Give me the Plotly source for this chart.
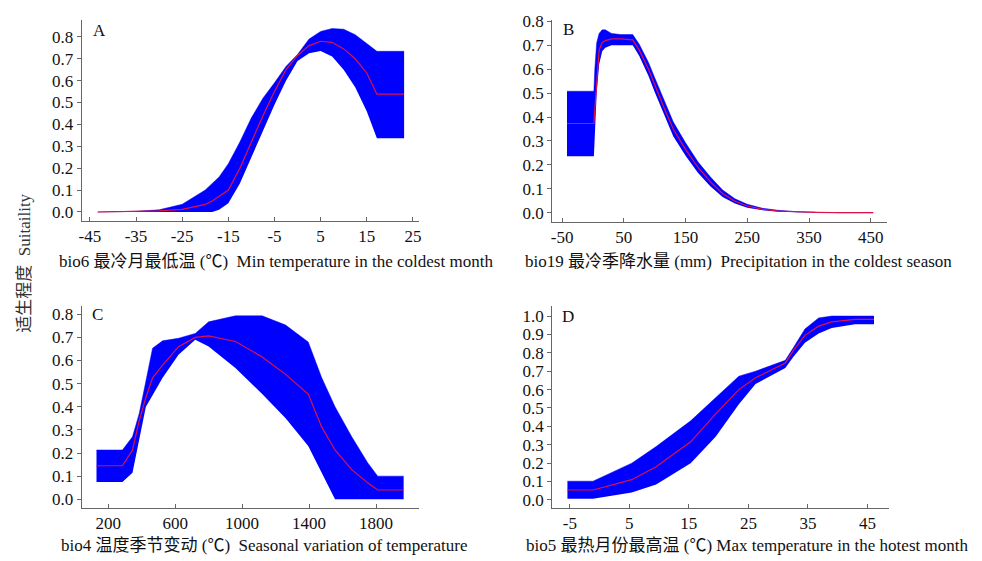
import plotly.graph_objects as go

# ---------------- Data ----------------
# Panel A: bio6
a_x     = [-43.3, -35, -30, -25, -20, -18.5, -17, -15, -12.5, -10, -7.5, -5, -2.5, 0, 2.5, 5, 7.5, 10, 12.5, 15, 17.2, 23.1]
a_mean  = [0, 0.002, 0.005, 0.012, 0.035, 0.05, 0.07, 0.10, 0.20, 0.32, 0.44, 0.55, 0.65, 0.715, 0.76, 0.78, 0.775, 0.745, 0.70, 0.635, 0.538, 0.538]
a_upper = [0, 0.003, 0.01, 0.035, 0.10, 0.13, 0.16, 0.22, 0.32, 0.43, 0.52, 0.59, 0.665, 0.72, 0.79, 0.825, 0.838, 0.835, 0.81, 0.77, 0.734, 0.734]
a_lower = [0, 0, 0, 0, 0, 0, 0.01, 0.04, 0.13, 0.25, 0.37, 0.49, 0.60, 0.69, 0.725, 0.735, 0.71, 0.65, 0.57, 0.46, 0.337, 0.337]

# Panel B: bio19
b_x     = [-42, 1.5, 3, 6, 10, 15, 20, 30, 45, 64.5, 75, 90, 100, 115, 130, 150, 170, 190, 210, 230, 250, 275, 300, 330, 360, 400, 454]
b_mean  = [0.373, 0.373, 0.43, 0.55, 0.68, 0.712, 0.72, 0.727, 0.727, 0.723, 0.68, 0.60, 0.535, 0.44, 0.35, 0.265, 0.19, 0.13, 0.08, 0.048, 0.028, 0.014, 0.007, 0.003, 0.001, 0, 0]
b_upper = [0.508, 0.508, 0.60, 0.71, 0.75, 0.765, 0.765, 0.75, 0.745, 0.745, 0.705, 0.628, 0.565, 0.47, 0.38, 0.292, 0.213, 0.15, 0.095, 0.058, 0.035, 0.018, 0.010, 0.004, 0.002, 0, 0]
b_lower = [0.236, 0.236, 0.32, 0.50, 0.62, 0.675, 0.69, 0.70, 0.70, 0.70, 0.655, 0.572, 0.505, 0.41, 0.32, 0.238, 0.167, 0.11, 0.065, 0.038, 0.021, 0.010, 0.004, 0.002, 0, 0, 0]

# Panel C: bio4
c_x     = [130, 285, 345, 385, 425, 465, 525, 620, 720, 800, 960, 1120, 1260, 1395, 1475, 1555, 1655, 1750, 1810, 1965]
c_mean  = [0.145, 0.145, 0.213, 0.34, 0.44, 0.525, 0.58, 0.66, 0.70, 0.706, 0.682, 0.615, 0.54, 0.455, 0.313, 0.213, 0.128, 0.071, 0.04, 0.04]
c_upper = [0.213, 0.213, 0.27, 0.37, 0.51, 0.653, 0.685, 0.696, 0.717, 0.767, 0.793, 0.793, 0.753, 0.68, 0.526, 0.40, 0.27, 0.158, 0.10, 0.10]
c_lower = [0.075, 0.075, 0.115, 0.26, 0.40, 0.45, 0.525, 0.625, 0.69, 0.66, 0.568, 0.455, 0.35, 0.23, 0.115, 0.0, 0.0, 0.0, 0.0, 0.0]

# Panel D: bio5
d_x     = [-5.4, -1.1, 5.4, 9.5, 15.3, 19.5, 23.4, 26.2, 31.2, 32.6, 34.5, 36.8, 39, 42.9, 46.1]
d_mean  = [0.054, 0.054, 0.11, 0.18, 0.316, 0.468, 0.60, 0.664, 0.745, 0.815, 0.895, 0.945, 0.968, 0.982, 0.982]
d_upper = [0.102, 0.102, 0.20, 0.29, 0.43, 0.557, 0.673, 0.70, 0.759, 0.83, 0.93, 0.99, 1.0, 1.0, 1.0]
d_lower = [0.007, 0.007, 0.04, 0.084, 0.20, 0.343, 0.52, 0.63, 0.718, 0.78, 0.855, 0.905, 0.935, 0.955, 0.955]

x_titles = [
    "bio6 最冷月最低温 (℃)  Min temperature in the coldest month",
    "bio19 最冷季降水量 (mm)  Precipitation in the coldest season",
    "bio4 温度季节变动 (℃)  Seasonal variation of temperature",
    "bio5 最热月份最高温 (℃) Max temperature in the hotest month",
]
panel_letters = ["A", "B", "C", "D"]
y_title = "适生程度  Suitaility"

a_xticks = [-45, -35, -25, -15, -5, 5, 15, 25]
b_xticks = [-50, 50, 150, 250, 350, 450]
c_xticks = [200, 600, 1000, 1400, 1800]
d_xticks = [-5, 5, 15, 25, 35, 45]
abc_yticks = [0, 0.1, 0.2, 0.3, 0.4, 0.5, 0.6, 0.7, 0.8]
d_yticks = [0, 0.1, 0.2, 0.3, 0.4, 0.5, 0.6, 0.7, 0.8, 0.9, 1.0]

# ---------------- Layout geometry ----------------
W, H = 982, 561
NUMFONT = "Liberation Serif"
TXTFONT = "Liberation Serif, Noto Sans CJK SC"
BLUE = "#0000FF"
RED = "#E0104A"
AXC = "#666666"

panels = [
    dict(x=a_x, m=a_mean, u=a_upper, l=a_lower, xt=a_xticks, yt=abc_yticks,
         xr=[-46.8, 26.3], yr=[-0.039, 0.878], dom=([79, 418], [13, 217]),
         title_xy=(274, 259), letter_xy=(97, 24)),
    dict(x=b_x, m=b_mean, u=b_upper, l=b_lower, xt=b_xticks, yt=abc_yticks,
         xr=[-66, 477], yr=[-0.037, 0.807], dom=([552, 889], [13, 218]),
         title_xy=(739, 259), letter_xy=(568, 23)),
    dict(x=c_x, m=c_mean, u=c_upper, l=c_lower, xt=c_xticks, yt=abc_yticks,
         xr=[41, 2056], yr=[-0.037, 0.835], dom=([79, 418], [304, 509]),
         title_xy=(262, 547), letter_xy=(95, 313)),
    dict(x=d_x, m=d_mean, u=d_upper, l=d_lower, xt=d_xticks, yt=d_yticks,
         xr=[-7.96, 48.7], yr=[-0.043, 1.054], dom=([552, 891], [304, 509]),
         title_xy=(748, 547), letter_xy=(568, 315)),
]

fig = go.Figure()
annotations = []
for i, p in enumerate(panels):
    n = "" if i == 0 else str(i + 1)
    xa, ya = "x" + n, "y" + n
    fig.add_trace(go.Scatter(x=p["x"], y=p["l"], mode="lines", line=dict(width=0, color=BLUE),
                             xaxis=xa, yaxis=ya, showlegend=False, hoverinfo="skip"))
    fig.add_trace(go.Scatter(x=p["x"], y=p["u"], mode="lines", line=dict(width=0.5, color=BLUE),
                             fill="tonexty", fillcolor=BLUE, xaxis=xa, yaxis=ya, showlegend=False))
    fig.add_trace(go.Scatter(x=p["x"], y=p["m"], mode="lines", line=dict(width=1.2, color=RED),
                             xaxis=xa, yaxis=ya, showlegend=False))
    (x0, x1), (y0, y1) = p["dom"]
    common = dict(showline=True, linecolor=AXC, linewidth=1, showgrid=False, zeroline=False,
                  tickcolor=AXC, ticklen=4, tickwidth=1,
                  tickfont=dict(family=NUMFONT, size=17, color="#111"))
    fig.layout["xaxis" + n] = dict(common, domain=[x0 / W, x1 / W], range=p["xr"],
                                   tickvals=p["xt"], ticktext=[str(v) for v in p["xt"]],
                                   ticks="inside", anchor=ya)
    fig.layout["yaxis" + n] = dict(common, domain=[1 - y1 / H, 1 - y0 / H], range=p["yr"],
                                   tickvals=p["yt"], ticktext=["%.1f" % v for v in p["yt"]],
                                   ticks="outside", anchor=xa)
    tx, ty = p["title_xy"]
    annotations.append(dict(text=x_titles[i], x=tx / W, y=1 - ty / H, xref="paper", yref="paper",
                            showarrow=False, xanchor="center", yanchor="middle",
                            font=dict(family=TXTFONT, size=17, color="#111")))
    lx, ly = p["letter_xy"]
    annotations.append(dict(text=panel_letters[i], x=lx / W, y=1 - ly / H, xref="paper", yref="paper",
                            showarrow=False, xanchor="center", yanchor="middle",
                            font=dict(family=NUMFONT, size=17, color="#111")))

annotations.append(dict(text=y_title, x=22 / W, y=1 - 260 / H, xref="paper", yref="paper",
                        showarrow=False, textangle=-90, xanchor="center", yanchor="middle",
                        font=dict(family=TXTFONT, size=17, color="#333")))

fig.update_layout(width=W, height=H, margin=dict(l=0, r=0, t=0, b=0),
                  paper_bgcolor="white", plot_bgcolor="white", annotations=annotations,
                  hovermode=False)

fig.write_html("out.html", config={"displayModeBar": False},
               post_script="document.body.style.margin='0';document.body.style.padding='0';")
